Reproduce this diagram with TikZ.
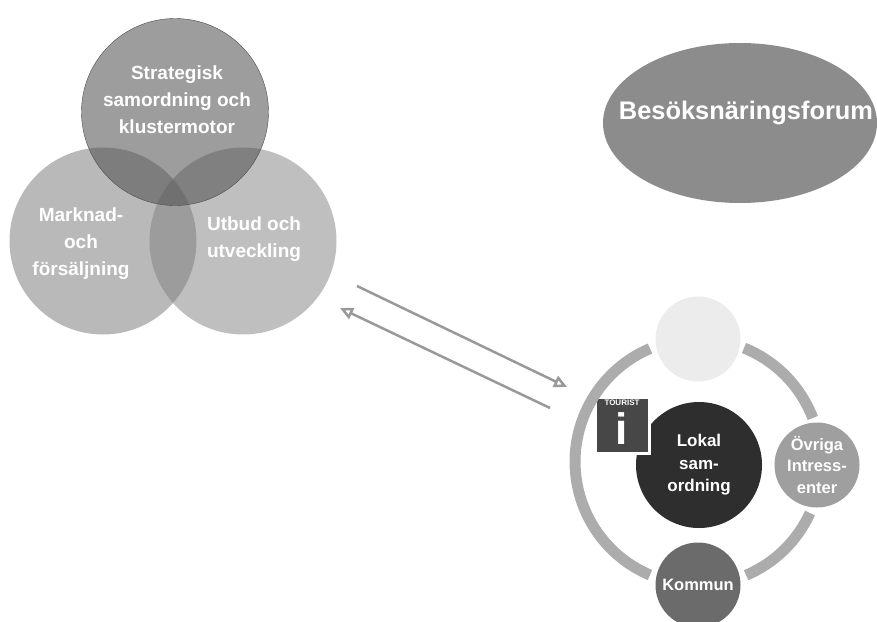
\documentclass[tikz,border=0pt]{standalone}
\usepackage{fontspec}
\setmainfont{Liberation Sans}
\usetikzlibrary{shapes.geometric,arrows.meta}
\tikzstyle{bubble} = [circle,inner sep=0pt,align=center,text=white,font=\bfseries,text opacity=1]
\tikzstyle{venn} = [bubble,minimum size=187pt]
\tikzstyle{vennlabel} = [align=center,text=white,font=\bfseries\fontsize{19}{27}\selectfont]
\tikzstyle{actor} = [bubble,minimum size=85pt,font=\bfseries\fontsize{16.5}{21.5}\selectfont]
\tikzstyle{ringline} = [line width=11pt,color=gray!65]
\tikzstyle{flow} = [-{Triangle[open,length=13pt,width=12pt]},line width=2.5pt,color=gray!80]

\begin{document}
\begin{tikzpicture}[x=1pt,y=-1pt]
		\useasboundingbox (0,0) rectangle (877,621);
		% vanster sida
		\node[venn,fill=black!55,fill opacity=.5] (n1) at (103,241) {};
		\node[venn,fill=black!50,fill opacity=.5] (n2) at (243,241) {};
		\node[venn,fill=black!70,fill opacity=.55,draw=gray!60!black] (n3) at (175,112) {};
		\node[vennlabel] (t3) at (177,100) {Strategisk\\samordning och\\klustermotor};
		\node[vennlabel] (t1) at (81,244) {Marknad-\\och\\försäljning};
		\node[vennlabel] (t2) at (254,239) {Utbud och\\utveckling};
		% hoger sida
		\node[bubble,ellipse,fill=gray!90,minimum width=274pt,minimum height=160pt] (n4) at (740,123) {};
		\node[vennlabel,font=\bfseries\fontsize{25.4}{28}\selectfont] (t4) at (746,113) {Besöksnäringsforum};
		\node[actor,fill=gray!15] (n5) at (698,339) {};
		\node[actor,fill=gray!75] (n6) at (817,465) {Övriga\\Intress-\\enter};
		\node[actor,fill=black!58] (n7) at (698,585) {Kommun};
		\node[bubble,minimum size=126pt,fill=black!82,font=\bfseries\fontsize{17}{22.5}\selectfont] (n8) at (699,465) {Lokal\\sam-\\ordning};
		\node[draw=white,line width=3pt,fill=black!72,minimum width=54pt,minimum height=56pt,inner sep=0pt] (n9) at (622,425) {};
		\node[text=white,font=\bfseries\fontsize{8}{9}\selectfont,inner sep=0pt] (t9) at (622,403) {TOURIST};
		\node[text=white,font=\bfseries\fontsize{44}{44}\selectfont,inner sep=0pt] (i9) at (622,429) {i};
		% ringen
		\coordinate (r1) at (744,348);
		\coordinate (r2) at (810,513);
		\coordinate (r3) at (650,575);
		\draw[ringline] (r1) arc[start angle=-68,end angle=-21,radius=123];
		\draw[ringline] (r2) arc[start angle=24.5,end angle=67,radius=123];
		\draw[ringline] (r3) arc[start angle=113,end angle=247,radius=123];
		% pilar
		\coordinate (a1) at (357,286);
		\coordinate (a2) at (567,387);
		\coordinate (b1) at (550,408);
		\coordinate (b2) at (340,308);
		\draw[flow] (a1) -- (a2);
		\draw[flow] (b1) -- (b2);
		\end{tikzpicture}
\end{document}
